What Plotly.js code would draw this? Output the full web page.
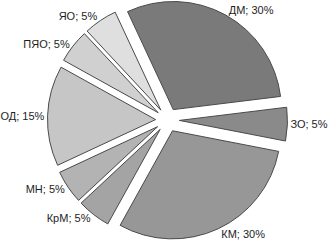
<!DOCTYPE html>
<html><head><meta charset="utf-8">
<script src="https://cdn.plot.ly/plotly-3.0.1.min.js"></script>
<style>html,body{margin:0;padding:0;background:#fff}#c{width:329px;height:240px}</style>
</head><body><div id="c"></div>
<script>
const labels = ["ДМ", "ЗО", "КМ", "КрМ", "МН", "ОД", "ПЯО", "ЯО"];
const values = [30, 5, 30, 5, 5, 15, 5, 5];
const colors = ["#7a7a7a", "#8a8a8a", "#979797", "#a4a4a4", "#b3b3b3", "#c6c6c6", "#d0d0d0", "#dfdfdf"];

Plotly.newPlot("c", [{
  type: "pie",
  labels: labels,
  values: values,
  sort: false,
  direction: "clockwise",
  rotation: -25,
  pull: labels.map(() => 0.11),
  marker: {colors: colors, line: {color: "#4a4a4a", width: 1}},
  texttemplate: "%{label}; %{value}%",
  textposition: "outside",
  textfont: {family: "Liberation Sans, Arial, sans-serif", size: 11, color: "#1e1e1e"},
  showlegend: false,
  hoverinfo: "none"
}], {
  width: 329, height: 240,
  margin: {l: 6, r: 0, t: 0, b: 0},
  paper_bgcolor: "#fff",
  showlegend: false
}, {staticPlot: true});
</script></body></html>
